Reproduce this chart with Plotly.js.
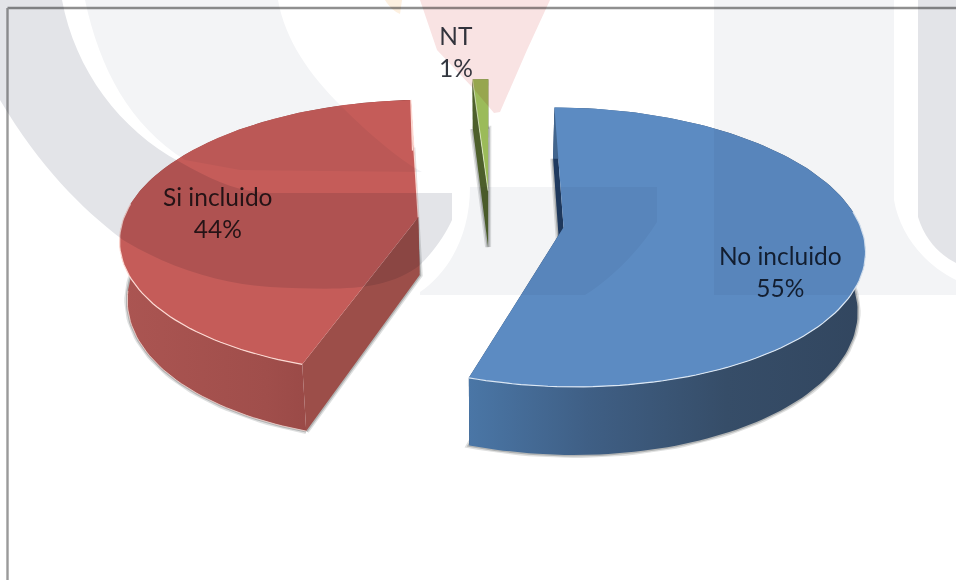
<!DOCTYPE html>
<html>
<head>
<meta charset="utf-8">
<script src="https://cdn.plot.ly/plotly-3.0.1.min.js"></script>
<style>
html,body{margin:0;padding:0;background:#fff}
#chart{width:956px;height:580px}
/* The upper drawing surface tints whatever lies beneath it */
#chart svg.main-svg:has(.layer-above .shapelayer path){mix-blend-mode:multiply}
</style>
</head>
<body>
<div id="chart"></div>
<script>
// Survey answers, in clockwise order from twelve o'clock
const categories = ['No incluido', 'Si incluido', 'NT'];
const shares = [55, 44, 1];

// Appearance of each slice
const topColors = ['#5c8bc2', '#c55c59', '#9bbb59'];
const cutColors = ['#1f3a5f', '#9c4e49', '#4d5f2b'];
const wallStops = [
  [[0, '#4a76a6'], [0.3, '#3f5f85'], [0.65, '#364d68'], [1, '#32465f']],
  [[0, '#ab5552'], [0.5, '#a04e4b'], [1, '#8c403d']],
  [[0, '#4d5f2b'], [1, '#4d5f2b']]
];
const rimHighlights = ['rgba(225,236,248,0.95)', 'rgba(255,222,216,0.95)', 'rgba(235,245,215,0.9)'];
// Exploded offset of each slice on the ground plane, and label anchors
const offsets = [[73, -16], [-72, 6], [-2, 66]];
const labelAnchors = [[780, 271], [218, 212], [456, 51]];

// Oblique perspective: the disc lies on a ground plane seen from above
const VX = 490, VY = 220, R = 295, TILT = 0.457, PERSP = 0.143, DEPTH = 58, CONVERGE = 0.021;
const rad = d => d * Math.PI / 180;

function project(wx, wy, low) {
  const w = 1 + PERSP * wy / 300;
  let x = VX + wx / w;
  let y = VY - TILT * wy / w;
  if (low) {
    x += (VX - x) * CONVERGE;
    y += DEPTH / w;
  }
  return [x, y];
}
function rimPoint(off, deg, low) {
  return project(off[0] + R * Math.cos(rad(deg)), off[1] + R * Math.sin(rad(deg)), low);
}
function arc(off, from, to, low) {
  const n = Math.max(2, Math.ceil(Math.abs(to - from) / 1.5));
  const pts = [];
  for (let i = 0; i <= n; i++) pts.push(rimPoint(off, from + (to - from) * i / n, low));
  return pts;
}
function poly(pts, extra) {
  return Object.assign({
    x: pts.map(p => p[0]), y: pts.map(p => p[1]),
    type: 'scatter', mode: 'lines', hoverinfo: 'skip', showlegend: false
  }, extra);
}
function filled(pts, color, extra) {
  return poly(pts.concat([pts[0]]), Object.assign({fill: 'toself', fillcolor: color, line: {width: 0, color: color}}, extra || {}));
}
function stroke(pts, color, width) {
  return poly(pts, {line: {color: color, width: width}});
}

// Build the layered traces of one slice between two polar angles
function sliceTraces(i, start, end) {
  const off = offsets[i];
  const apexTop = project(off[0], off[1], false);
  const apexLow = project(off[0], off[1], true);
  const startTop = rimPoint(off, start, false), startLow = rimPoint(off, start, true);
  const endTop = rimPoint(off, end, false), endLow = rimPoint(off, end, true);
  const rimTop = arc(off, start, end, false);
  const rimLow = arc(off, start, end, true);
  const traces = [];

  // Soft contact shadow hugging the lower edges
  const shadowPath = rimLow.concat([apexLow, startLow]);
  traces.push(stroke(shadowPath, 'rgba(110,115,115,0.22)', 6));
  traces.push(stroke(shadowPath, 'rgba(110,115,115,0.4)', 3));

  // Side walls, painted back to front, then the top face
  traces.push(filled([startTop, startLow, apexLow, apexTop], cutColors[i]));
  traces.push(filled([apexTop, apexLow, endLow, endTop], cutColors[i]));
  const grad = {type: 'horizontal', colorscale: wallStops[i]};
  traces.push(filled(rimTop.concat(rimLow.slice().reverse()), wallStops[i][0][1], {fillgradient: grad}));
  traces.push(filled([apexTop].concat(rimTop), topColors[i]));

  // Thin bright edges where the faces meet
  const front = [];
  for (let k = 0; k < rimTop.length; k++) {
    const deg = start + (end - start) * k / (rimTop.length - 1);
    if (Math.sin(rad(deg)) < 0.12) front.push(rimTop[k]);
  }
  if (i !== 2) traces.push(stroke(front, rimHighlights[i], 1.2));
  if (i === 1) {
    traces.push(stroke([apexTop, endTop, endLow], rimHighlights[i], 1.2));
    traces.push(stroke(rimLow.filter(p => p[1] > 290), 'rgba(245,215,210,0.8)', 1));
  }
  if (i === 2) traces.push(stroke([apexTop, startTop], rimHighlights[i], 0.8));
  return traces;
}

const data = [];
const total = shares.reduce((a, b) => a + b, 0);
const sweeps = shares.map(s => s / total * 360);
const bounds = [];
let angle = 90;
sweeps.forEach(s => { bounds.push([angle, angle - s]); angle -= s; });
// Green sits behind, then red, blue in front of nothing they overlap
[2, 1, 0].forEach(i => data.push(...sliceTraces(i, bounds[i][0], bounds[i][1])));

// Pale emblem behind the document, tinting everything it crosses
const grayBand = 'rgb(227,228,232)';
const paleBand = 'rgb(243,244,246)';
const emblem = (path, fill) => ({type: 'path', path, fillcolor: fill, line: {width: 0}, layer: 'above'});
const shapes = [
  {type: 'line', x0: 7.5, x1: 956, y0: 8, y1: 8, line: {color: '#8f8f8f', width: 2.4}, layer: 'below'},
  {type: 'line', x0: 7.5, x1: 7.5, y0: 8, y1: 580, line: {color: '#9a9a9a', width: 2.4}, layer: 'below'},
  emblem('M0,0 L62,0 C75,70 120,130 180,162 C215,182 240,192 270,193 L452,193 L452,220 C445,235 435,250 420,265 C385,292 340,290 270,287 C220,284 170,268 123,240 C80,207 40,167 0,100 Z', grayBand),
  emblem('M85,0 L278,0 C285,40 310,75 340,105 C370,135 400,160 422,172 L240,170 L185,160 C130,125 100,70 85,0 Z', paleBand),
  emblem('M420,0 L550,0 L527,50 L500,112 L494,113 L472,87 L437,50 Z', 'rgb(249,227,227)'),
  emblem('M385,0 L402,0 L400,14 C395,12 389,7 385,0 Z', 'rgb(253,240,224)'),
  emblem('M714,0 L894,0 L894,200 C900,235 925,265 956,280 L956,295 L714,295 Z', paleBand),
  emblem('M918,0 L956,0 L956,263 C940,255 925,240 918,217 Z', grayBand),
  emblem('M470,187 L657,187 L657,222 C640,250 610,280 585,295 L420,295 L420,292 C445,275 470,240 470,187 Z', paleBand)
];

// Two-line slice labels, name above percentage
const annotations = categories.map((name, i) => ({
  x: labelAnchors[i][0], y: labelAnchors[i][1], xref: 'x', yref: 'y',
  text: name + '<br>' + shares[i] + '%', showarrow: false,
  align: 'center', xanchor: 'center', yanchor: 'middle',
  font: {family: 'Lato, "Open Sans", sans-serif', size: 24.5, color: 'rgba(15,20,30,0.85)'}
}));

Plotly.newPlot('chart', data, {
  width: 956, height: 580,
  margin: {l: 0, r: 0, t: 0, b: 0},
  paper_bgcolor: '#ffffff', plot_bgcolor: '#ffffff',
  xaxis: {range: [0, 956], visible: false, fixedrange: true},
  yaxis: {range: [580, 0], visible: false, fixedrange: true},
  showlegend: false, shapes, annotations
}, {staticPlot: true, displayModeBar: false});
</script>
</body>
</html>
